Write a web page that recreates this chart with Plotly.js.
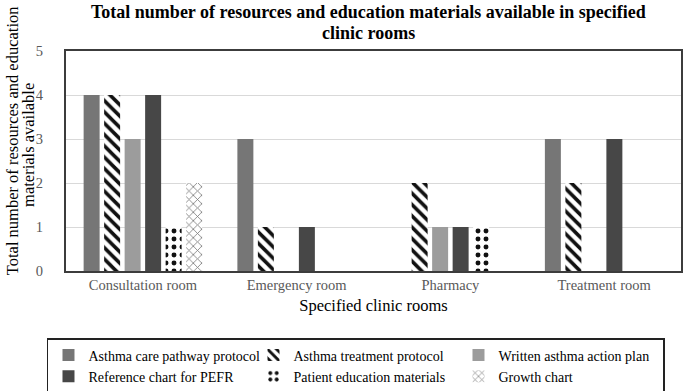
<!DOCTYPE html>
<html>
<head>
<meta charset="utf-8">
<script src="https://cdn.plot.ly/plotly-3.0.1.min.js"></script>
<style>html,body{margin:0;padding:0;background:#fff;}#chart{width:685px;height:391px;}</style>
</head>
<body>
<div id="chart"></div>
<script>
const rooms = ["Consultation room", "Emergency room", "Pharmacy", "Treatment room"];
const carePathway = [4, 3, 0, 3];
const treatmentProtocol = [4, 1, 2, 2];
const actionPlan = [3, 0, 1, 0];
const pefrChart = [4, 1, 1, 3];
const educationMaterials = [1, 0, 1, 0];
const growthChart = [2, 0, 0, 0];
const seriesNames = ["Asthma care pathway protocol", "Asthma treatment protocol", "Written asthma action plan",
  "Reference chart for PEFR", "Patient education materials", "Growth chart"];
const yTicks = [0, 1, 2, 3, 4, 5];
const titleLines = ["Total number of resources and education materials available in specified", "clinic rooms"];
const yTitleLines = ["Total number of resources and education", "materials available"];

const serif = "Liberation Serif, Times New Roman, serif";
const values = [carePathway, treatmentProtocol, actionPlan, pefrChart, educationMaterials, growthChart];
const markers = [
  {color: "#767676", line: {width: 0}},
  {color: "#ffffff", pattern: {shape: "\\", fgcolor: "#111111", bgcolor: "#ffffff", size: 8, solidity: 0.45}, line: {width: 0}},
  {color: "#9c9c9c", line: {width: 0}},
  {color: "#474747", line: {width: 0}},
  {color: "#ffffff", pattern: {shape: ".", fgcolor: "#111111", bgcolor: "#ffffff", size: 8, solidity: 0.3}, line: {width: 0}},
  {color: "#ffffff", pattern: {shape: "x", fgcolor: "#777777", bgcolor: "#ffffff", size: 6, solidity: 0.25}, line: {width: 0}}
];
const data = values.map((v, i) => ({
  type: "bar", x: rooms, y: v, name: seriesNames[i], marker: markers[i], hoverinfo: "skip"
}));

const layout = {
  width: 685, height: 391,
  margin: {l: 66, r: 4, t: 51, b: 120, autoexpand: false},
  paper_bgcolor: "#ffffff", plot_bgcolor: "#ffffff",
  barmode: "group", bargap: 0.2, bargroupgap: 0.22,
  font: {family: serif, color: "#000"},
  xaxis: {
    showgrid: false, showline: true, mirror: true, linecolor: "#3c3c3c", linewidth: 2,
    ticks: "", tickfont: {family: serif, size: 14.5, color: "#595959"},
    title: {text: "Specified clinic rooms", font: {family: serif, size: 16.5, color: "#000"}, standoff: 7},
    fixedrange: true, automargin: false
  },
  yaxis: {
    range: [0, 5], tickvals: yTicks, showgrid: true, gridcolor: "#d9d9d9", gridwidth: 1,
    showline: true, mirror: true, linecolor: "#3c3c3c", linewidth: 2, zeroline: false,
    ticks: "", ticklabelstandoff: 18, tickfont: {family: serif, size: 14.5, color: "#595959"},
    fixedrange: true, automargin: false
  },
  annotations: [
    {
      text: "<b>" + titleLines[0] + "</b>",
      xref: "paper", yref: "paper", x: 0.492, y: 1.175, xanchor: "center", yanchor: "middle",
      showarrow: false, font: {family: serif, size: 18, color: "#000"}
    },
    {
      text: "<b>" + titleLines[1] + "</b>",
      xref: "paper", yref: "paper", x: 0.492, y: 1.084, xanchor: "center", yanchor: "middle",
      showarrow: false, font: {family: serif, size: 18, color: "#000"}
    },
    {
      text: yTitleLines[0], textangle: -90, xref: "paper", yref: "paper",
      x: -0.0878, y: 0.59, xanchor: "center", yanchor: "middle", showarrow: false,
      font: {family: serif, size: 16.5, color: "#000"}
    },
    {
      text: yTitleLines[1], textangle: -90, xref: "paper", yref: "paper",
      x: -0.0602, y: 0.573, xanchor: "center", yanchor: "middle", showarrow: false,
      font: {family: serif, size: 16.5, color: "#000"}
    }
  ],
  legend: {
    orientation: "h", xref: "container", yref: "container",
    x: 0.0686, xanchor: "left", y: 0.1355, yanchor: "top",
    entrywidth: 160, entrywidthmode: "pixels",
    bordercolor: "#222", borderwidth: 1.5, bgcolor: "#fff",
    font: {family: serif, size: 14, color: "#000"}, traceorder: "normal", itemwidth: 30
  },
  showlegend: true
};

Plotly.newPlot("chart", data, layout, {displayModeBar: false, staticPlot: true});
</script>
</body>
</html>
